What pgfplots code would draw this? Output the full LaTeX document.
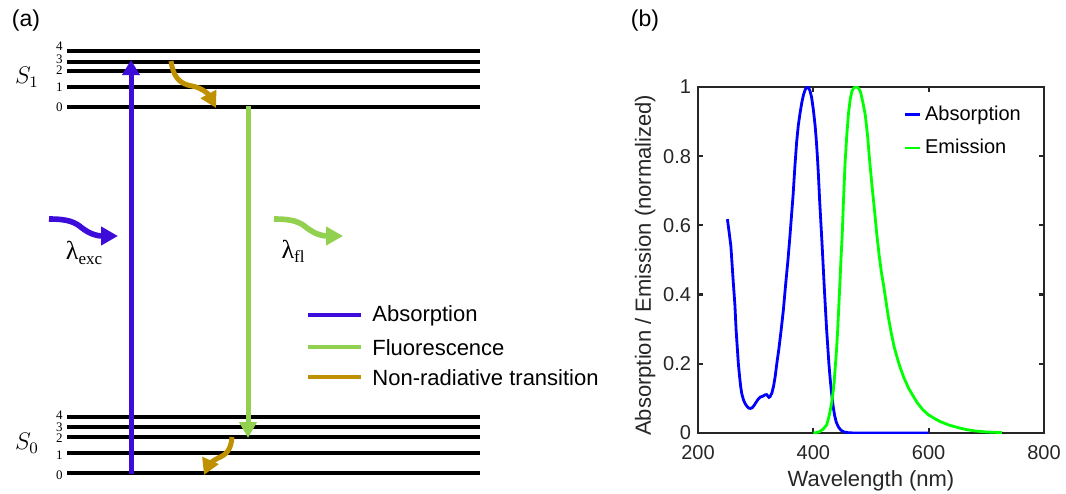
\documentclass[border=0pt]{standalone}
\usepackage{pgfplots}
\pgfplotsset{compat=1.18}
\usepackage{fontspec}
\setmainfont{Liberation Sans}
\newfontfamily\serifgr{Liberation Serif}
\usetikzlibrary{arrows.meta}
\definecolor{absA}{RGB}{62,12,218}
\definecolor{fluo}{RGB}{146,208,80}
\definecolor{nonrad}{RGB}{191,144,0}
\definecolor{axgray}{RGB}{38,38,38}
\begin{document}
\begin{tikzpicture}
% ---------------- panel (a): Jablonski diagram (pixel coordinates) ----------------
\begin{axis}[at={(0pt,0pt)}, anchor=south west, scale only axis,
  width=533pt, height=246.5pt, xmin=0, xmax=1066, ymin=0, ymax=493,
  y dir=reverse, hide axis, clip=false]
% S1 levels
\addplot[black, line width=2pt] coordinates {(67,51) (480,51)};
\addplot[black, line width=2pt] coordinates {(67,61.7) (480,61.7)};
\addplot[black, line width=2pt] coordinates {(67,71) (480,71)};
\addplot[black, line width=2pt] coordinates {(67,87.3) (480,87.3)};
\addplot[black, line width=2pt] coordinates {(67,107.3) (480,107.3)};
% S0 levels
\addplot[black, line width=2pt] coordinates {(67,416.7) (480,416.7)};
\addplot[black, line width=2pt] coordinates {(67,427.3) (480,427.3)};
\addplot[black, line width=2pt] coordinates {(67,437.3) (480,437.3)};
\addplot[black, line width=2pt] coordinates {(67,452.7) (480,452.7)};
\addplot[black, line width=2pt] coordinates {(67,472.7) (480,472.7)};
% level numbers
\node[anchor=east, inner sep=0pt, font=\fontsize{6.5}{7}\selectfont\serifgr] at (axis cs:63,46) {4};
\node[anchor=east, inner sep=0pt, font=\fontsize{6.5}{7}\selectfont\serifgr] at (axis cs:63,59) {3};
\node[anchor=east, inner sep=0pt, font=\fontsize{6.5}{7}\selectfont\serifgr] at (axis cs:63,70) {2};
\node[anchor=east, inner sep=0pt, font=\fontsize{6.5}{7}\selectfont\serifgr] at (axis cs:63,87.5) {1};
\node[anchor=east, inner sep=0pt, font=\fontsize{6.5}{7}\selectfont\serifgr] at (axis cs:63,107) {0};
\node[anchor=east, inner sep=0pt, font=\fontsize{6.5}{7}\selectfont\serifgr] at (axis cs:63,415) {4};
\node[anchor=east, inner sep=0pt, font=\fontsize{6.5}{7}\selectfont\serifgr] at (axis cs:63,427.5) {3};
\node[anchor=east, inner sep=0pt, font=\fontsize{6.5}{7}\selectfont\serifgr] at (axis cs:63,438) {2};
\node[anchor=east, inner sep=0pt, font=\fontsize{6.5}{7}\selectfont\serifgr] at (axis cs:63,455) {1};
\node[anchor=east, inner sep=0pt, font=\fontsize{6.5}{7}\selectfont\serifgr] at (axis cs:63,475) {0};
% state labels
\node at (axis cs:27,77) {\fontsize{12}{13}\selectfont $S_1$};
\node at (axis cs:27,443) {\fontsize{12}{13}\selectfont $S_0$};
% vertical transitions
\addplot[absA, line width=2.5pt, -{Triangle[length=7.5pt,width=8.5pt]}] coordinates {(131,474) (131,60)};
\addplot[fluo, line width=2.5pt, -{Triangle[length=8pt,width=8.5pt]}] coordinates {(248,106) (248,438)};
% non-radiative
\draw[nonrad, line width=2.5pt, -{Triangle[length=8pt,width=8.5pt]}]
  (axis cs:171,61) .. controls (axis cs:173,76) and (axis cs:179,84) .. (axis cs:192,86)
  .. controls (axis cs:203,88) and (axis cs:209,95) .. (axis cs:216,108);
\draw[nonrad, line width=2.5pt, -{Triangle[length=8pt,width=8.5pt]}]
  (axis cs:232,437) .. controls (axis cs:231,450) and (axis cs:226,455) .. (axis cs:218,458)
  .. controls (axis cs:212,461) and (axis cs:208,466) .. (axis cs:204,475);
% wavy photon arrows
\draw[absA, line width=2.8pt, -{Triangle[length=8.5pt,width=9pt]}]
  (axis cs:49,219) .. controls (axis cs:68,219) and (axis cs:75,222) .. (axis cs:82,228)
  .. controls (axis cs:90,234) and (axis cs:97,236) .. (axis cs:118,236);
\draw[fluo, line width=2.8pt, -{Triangle[length=8.5pt,width=9pt]}]
  (axis cs:274,219) .. controls (axis cs:293,219) and (axis cs:300,222) .. (axis cs:307,228)
  .. controls (axis cs:315,234) and (axis cs:322,236) .. (axis cs:343,236);
\node at (axis cs:84,253) {\fontsize{13}{15}\selectfont\serifgr λ\raisebox{-0.35ex}{\fontsize{8.5}{9}\selectfont exc}};
\node at (axis cs:293,251) {\fontsize{13}{15}\selectfont\serifgr λ\raisebox{-0.35ex}{\fontsize{8.5}{9}\selectfont fl}};
% legend of (a)
\draw[absA, line width=2pt] (axis cs:308,315) -- (axis cs:361,315);
\draw[fluo, line width=2pt] (axis cs:308,346.7) -- (axis cs:361,346.7);
\draw[nonrad, line width=2pt] (axis cs:308,377.3) -- (axis cs:361,377.3);
\node[anchor=west, inner sep=0pt, font=\fontsize{11}{13}\selectfont] at (axis cs:372,316) {Absorption};
\node[anchor=west, inner sep=0pt, font=\fontsize{11}{13}\selectfont] at (axis cs:372,347.5) {Fluorescence};
\node[anchor=west, inner sep=0pt, font=\fontsize{11}{13}\selectfont] at (axis cs:372,378) {Non-radiative transition};
% panel letters
\node[font=\fontsize{11.5}{13}\selectfont] at (axis cs:26,21) {(a)};
\node[font=\fontsize{11.5}{13}\selectfont] at (axis cs:645,21) {(b)};
\end{axis}
% ---------------- panel (b): spectra ----------------
\begin{axis}[at={(349pt,30pt)}, anchor=south west, scale only axis,
  width=173pt, height=173pt,
  xmin=200, xmax=800, ymin=0, ymax=1,
  xtick={200,400,600,800}, ytick={0,0.2,0.4,0.6,0.8,1},
  yticklabels={0,0.2,0.4,0.6,0.8,1},
  tick align=inside, major tick length=2.5pt,
  axis line style={draw=axgray, line width=1.1pt},
  tick style={axgray, line width=1.1pt},
  tick label style={font=\fontsize{10}{12}\selectfont, text=axgray},
  xticklabel style={yshift=-2.5pt},
  /pgf/number format/assume math mode=true,
  xlabel={Wavelength (nm)}, ylabel={Absorption / Emission (normalized)},
  label style={font=\fontsize{11}{13}\selectfont, text=axgray},
  xlabel style={at={(axis description cs:0.5,-0.138)}, anchor=center},
  ylabel style={at={(axis description cs:-0.153,0.485)}, anchor=center},
  legend style={draw=none, fill=none, at={(axis description cs:0.575,0.97)}, anchor=north west,
    font=\fontsize{10}{12}\selectfont, row sep=4pt},
  legend cell align=left,
  legend image code/.code={\draw[#1, line width=1.4pt] (0pt,0pt) -- (7.5pt,0pt);},
]
\addplot[blue, line width=1.4pt] coordinates {
(251,0.618) (254,0.58) (257,0.54) (261,0.44) (264,0.37) (266,0.30) (268,0.25) (270,0.20)
(272,0.165) (274,0.134) (276,0.113) (279,0.095) (282,0.084) (285,0.077) (288,0.072) (291,0.071)
(294,0.073) (297,0.079) (300,0.087) (304,0.097) (308,0.104) (312,0.106) (316,0.110) (319,0.111)
(321,0.107) (323,0.103) (325,0.105) (328,0.115) (331,0.135) (334,0.165) (337,0.205) (340,0.24)
(344,0.295) (348,0.355) (352,0.43) (356,0.50) (359,0.56) (362,0.625) (365,0.69) (368,0.77)
(371,0.84) (374,0.89) (377,0.925) (380,0.955) (383,0.978) (386,0.993) (389,1.0) (391,1.0)
(394,0.99) (397,0.97) (400,0.935) (403,0.89) (405,0.85) (407,0.80) (409,0.74) (411,0.67)
(413,0.61) (415,0.55) (417,0.485) (419,0.42) (421,0.36) (423,0.30) (425,0.25) (427,0.20)
(429,0.16) (431,0.125) (433,0.095) (435,0.07) (437,0.05) (440,0.03) (444,0.016) (448,0.008)
(453,0.003) (460,0.001) (470,0) (600,0)
};
\addlegendentry{Absorption}
\addplot[green, line width=1.4pt] coordinates {
(400,0) (405,0.001) (411,0.004) (416,0.010) (420,0.017) (423,0.023) (426,0.040) (429,0.062)
(432,0.090) (434,0.115) (436,0.145) (438,0.19) (440,0.235) (442,0.29) (444,0.36) (446,0.43)
(448,0.505) (450,0.57) (452,0.66) (455,0.78) (458,0.86) (461,0.925) (464,0.965) (467,0.988)
(470,0.997) (473,1.0) (476,1.0) (479,0.995) (482,0.985) (486,0.955) (490,0.92) (494,0.86)
(498,0.78) (502,0.71) (506,0.645) (510,0.575) (514,0.515) (518,0.465) (522,0.425) (526,0.38)
(530,0.336) (535,0.29) (540,0.25) (545,0.22) (550,0.192) (557,0.16) (565,0.13) (572,0.11)
(580,0.088) (590,0.067) (600,0.052) (610,0.042) (620,0.033) (635,0.023) (650,0.016) (665,0.010)
(680,0.006) (700,0.003) (715,0.002) (727,0.001)
};
\addlegendentry{Emission}
\end{axis}
\pgfresetboundingbox
\path[use as bounding box] (0pt,0pt) rectangle (533pt,246.5pt);
\end{tikzpicture}
\end{document}
